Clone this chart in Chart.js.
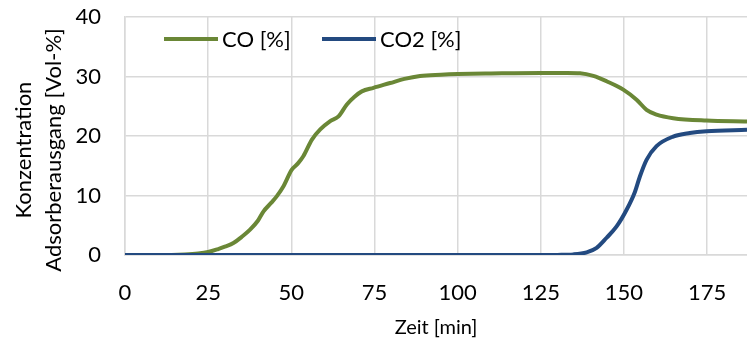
<!DOCTYPE html>
<html>
<head>
<meta charset="utf-8">
<script src="https://cdn.jsdelivr.net/npm/chart.js@4.4.1/dist/chart.umd.min.js"></script>
<style>
  html, body { margin: 0; padding: 0; background: #fff; }
  #wrap { width: 747px; height: 340px; }
</style>
</head>
<body>
<div id="wrap"><canvas id="chart" width="747" height="340"></canvas></div>
<script>
// Zeit [min] / Konzentration [Vol-%]
const coTime = [0, 10, 18, 22, 25, 28, 30, 32.6, 35, 37.6, 40, 41.6, 44, 45.6, 47.6, 50.1, 52, 53.6, 56.2, 58.7, 61.7, 64.2, 66.7, 69, 71.2, 74.7, 79.7, 84, 88.7, 95, 100, 110, 125, 133, 136.8, 140.8, 144.8, 149.8, 153.8, 156.8, 159.8, 164.8, 174.8, 187];
const coValues = [0, 0, 0.1, 0.25, 0.5, 1.0, 1.4, 2.0, 3.0, 4.25, 5.8, 7.3, 8.8, 9.85, 11.5, 14.3, 15.4, 16.6, 19.4, 21.1, 22.5, 23.3, 25.3, 26.6, 27.5, 28.1, 28.9, 29.6, 30.1, 30.3, 30.4, 30.5, 30.6, 30.6, 30.55, 30.1, 29.2, 27.8, 26.1, 24.4, 23.6, 23.0, 22.6, 22.45];

const co2Time = [0, 50, 100, 125, 130, 134.8, 138.8, 141.8, 144.8, 147.8, 150.8, 153.3, 154.8, 156.8, 159.8, 164.8, 169.8, 174.8, 187];
const co2Values = [0, 0, 0, 0, 0.02, 0.1, 0.45, 1.2, 2.9, 4.8, 7.6, 10.6, 13.2, 16.0, 18.3, 19.9, 20.5, 20.8, 21.05];

const seriesLabels = ['CO [%]', 'CO2 [%]'];
const seriesColors = ['#6A8736', '#234A80'];
const yTitleLines = ['Konzentration', 'Adsorberausgang [Vol-%]'];
const xTitle = 'Zeit [min]';

Chart.defaults.font.family = 'Lato';
Chart.defaults.color = '#000';

function toPoints(xs, ys) {
    return xs.map((x, i) => ({ x: x, y: ys[i] }));
}

// legend sits inside the plot area, Excel style
const insideLegend = {
    id: 'insideLegend',
    afterDatasetsDraw(chart) {
        const ctx = chart.ctx;
        const area = chart.chartArea;
        const y = area.top + 22;
        const starts = [area.left + 39, area.left + 197];
        ctx.save();
        ctx.font = '22px Lato';
        ctx.textBaseline = 'middle';
        ctx.textAlign = 'left';
        chart.data.datasets.forEach((ds, i) => {
            const x0 = starts[i];
            ctx.strokeStyle = ds.borderColor;
            ctx.lineWidth = 4;
            ctx.beginPath();
            ctx.moveTo(x0, y);
            ctx.lineTo(x0 + 54, y);
            ctx.stroke();
            ctx.fillStyle = '#000';
            ctx.fillText(ds.label, x0 + 58, y + 1);
        });
        ctx.restore();
    }
};

const yAxisTitle = {
    id: 'yAxisTitle',
    afterDraw(chart) {
        const ctx = chart.ctx;
        ctx.save();
        ctx.font = '22px Lato';
        ctx.fillStyle = '#000';
        ctx.textAlign = 'center';
        ctx.textBaseline = 'alphabetic';
        const baselines = [31, 61];
        yTitleLines.forEach((line, i) => {
            ctx.save();
            ctx.translate(baselines[i], 150);
            ctx.rotate(-Math.PI / 2);
            ctx.fillText(line, 0, 0);
            ctx.restore();
        });
        ctx.restore();
    }
};

new Chart(document.getElementById('chart').getContext('2d'), {
    type: 'line',
    data: {
        datasets: [{
            label: seriesLabels[0],
            data: toPoints(coTime, coValues),
            borderColor: seriesColors[0],
            backgroundColor: seriesColors[0],
            borderWidth: 4,
            pointRadius: 0,
            cubicInterpolationMode: 'monotone',
            order: 1
        }, {
            label: seriesLabels[1],
            data: toPoints(co2Time, co2Values),
            borderColor: seriesColors[1],
            backgroundColor: seriesColors[1],
            borderWidth: 4,
            pointRadius: 0,
            cubicInterpolationMode: 'monotone',
            order: 0
        }]
    },
    options: {
        responsive: false,
        animation: false,
        layout: { padding: { top: 17, right: 0, left: 0, bottom: 0 } },
        scales: {
            x: {
                type: 'linear',
                min: 0,
                max: 187,
                grid: { color: '#d9d9d9', lineWidth: 1.5, drawTicks: false },
                border: { color: '#d9d9d9', width: 1.5 },
                ticks: { stepSize: 25, includeBounds: false, padding: 25, font: { size: 22 }, maxRotation: 0 },
                title: { display: true, text: xTitle, font: { size: 20 }, padding: { top: 8, bottom: 0 } },
                afterFit(scale) { scale.height = 85; scale.paddingLeft = 0; scale.paddingRight = 0; }
            },
            y: {
                min: 0,
                max: 40,
                grid: { color: '#d9d9d9', lineWidth: 1.5, drawTicks: false },
                border: { color: '#d9d9d9', width: 1.5 },
                ticks: { stepSize: 10, padding: 24, font: { size: 22 } },
                afterFit(scale) { scale.width = 125; scale.paddingTop = 0; scale.paddingBottom = 0; }
            }
        },
        plugins: {
            legend: { display: false },
            tooltip: { enabled: false }
        }
    },
    plugins: [insideLegend, yAxisTitle]
});
</script>
</body>
</html>
